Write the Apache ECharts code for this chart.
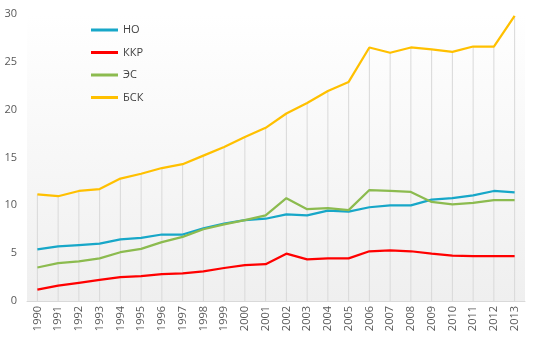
<!DOCTYPE html>
<html>
<head>
<meta charset="utf-8">
<script src="https://cdn.jsdelivr.net/npm/echarts@6/dist/echarts.min.js"></script>
<style>html,body{margin:0;padding:0;background:#fff}#c{width:538px;height:339px}</style>
</head>
<body>
<div id="c"></div>
<script>
var years = ['1990','1991','1992','1993','1994','1995','1996','1997','1998','1999','2000','2001','2002','2003','2004','2005','2006','2007','2008','2009','2010','2011','2012','2013'];
var seriesNames = ['НО','ККР','ЭС','БСК'];
var NO  = [5.4,5.7,5.85,6.0,6.45,6.6,6.95,6.95,7.6,8.1,8.45,8.6,9.05,8.95,9.45,9.35,9.8,10.0,10.0,10.6,10.75,11.05,11.5,11.35];
var KKR = [1.2,1.6,1.9,2.2,2.5,2.6,2.8,2.9,3.1,3.45,3.75,3.85,4.95,4.35,4.45,4.45,5.2,5.3,5.2,4.95,4.75,4.7,4.7,4.7];
var ES  = [3.5,3.95,4.15,4.45,5.1,5.45,6.15,6.7,7.5,8.0,8.45,8.95,10.75,9.6,9.7,9.5,11.6,11.5,11.4,10.35,10.1,10.25,10.55,10.55];
var BSK = [11.15,10.95,11.5,11.7,12.8,13.3,13.9,14.3,15.2,16.1,17.15,18.1,19.6,20.7,21.95,22.9,26.5,25.95,26.5,26.3,26.05,26.6,26.6,29.8];
var yTicks = [0,5,10,15,20,25,30];
var colors = ['#17a7c8','#ff0000','#8cbb4f','#ffc000'];

var chart = echarts.init(document.getElementById('c'));
function lineSeries(name, data, color){
  return {name:name,type:'line',data:data,symbol:'none',smooth:false,z:3,
    lineStyle:{color:color,width:2.25},itemStyle:{color:color},emphasis:{disabled:true}};
}
chart.setOption({
  animation:false,
  textStyle:{fontFamily:'"Open Sans","DejaVu Sans",sans-serif'},
  grid:{left:27,right:13,top:14,bottom:38,show:true,borderWidth:0,
    backgroundColor:new echarts.graphic.LinearGradient(0,0,0,1,[
      {offset:0,color:'#ffffff'},{offset:0.12,color:'#fdfdfd'},{offset:1,color:'#efefef'}])},
  legend:{orient:'vertical',left:86,top:18,itemWidth:27,itemHeight:3,itemGap:8.5,icon:'rect',
    data:seriesNames,
    textStyle:{color:'#404040',fontSize:11,lineHeight:14,fontFamily:'"Open Sans","DejaVu Sans",sans-serif'}},
  xAxis:{type:'category',data:years,boundaryGap:true,
    axisLine:{lineStyle:{color:'#d9d9d9',width:1}},
    axisTick:{show:false},
    axisLabel:{rotate:90,color:'#595959',fontSize:11,margin:5,interval:0},
    splitLine:{show:false}},
  yAxis:{type:'value',min:0,max:30,interval:5,
    axisLine:{show:false},axisTick:{show:false},
    axisLabel:{color:'#595959',fontSize:11,margin:10,
      formatter:function(v){return yTicks.indexOf(v)>=0?String(v):'';}},
    splitLine:{show:false}},
  series:[
    {name:'drop',type:'bar',data:BSK,barWidth:1,z:1,silent:true,
      itemStyle:{color:'#d9d9d9'},legendHoverLink:false},
    lineSeries(seriesNames[0],NO,colors[0]),
    lineSeries(seriesNames[1],KKR,colors[1]),
    lineSeries(seriesNames[2],ES,colors[2]),
    lineSeries(seriesNames[3],BSK,colors[3])
  ]
});
</script>
</body>
</html>
